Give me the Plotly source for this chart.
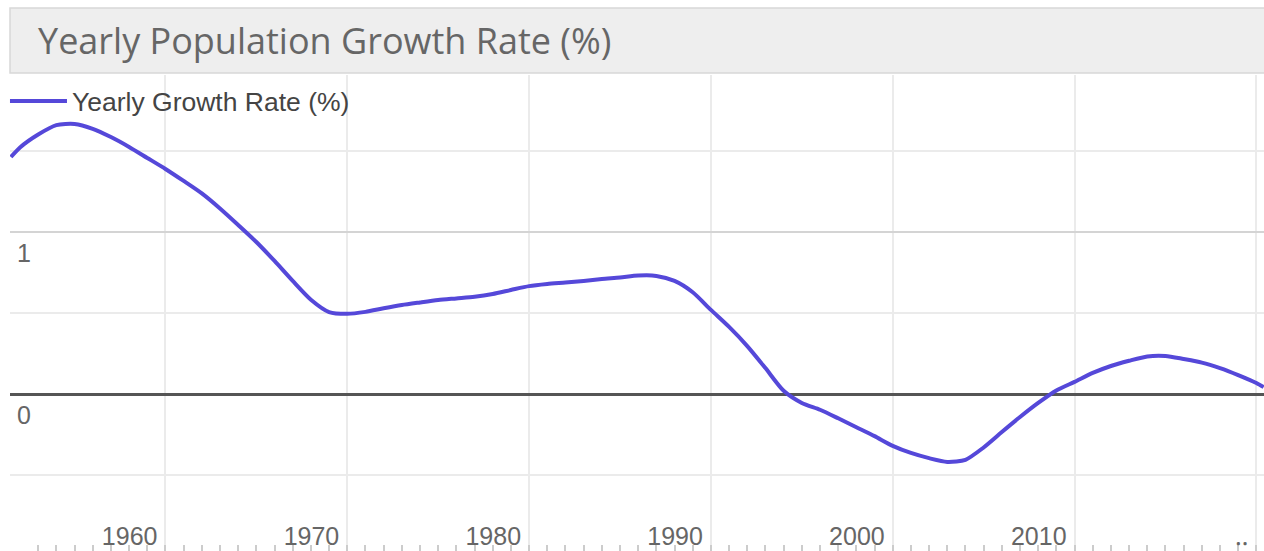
import plotly.graph_objects as go

# ---- data ----
years = [1951.5, 1952, 1953, 1954, 1955, 1956, 1957, 1958, 1959,
         1960, 1961, 1962, 1963, 1964, 1965, 1966, 1967, 1968, 1969,
         1970, 1971, 1972, 1973, 1974, 1975, 1976, 1977, 1978, 1979,
         1980, 1981, 1982, 1983, 1984, 1985, 1986, 1987, 1988, 1989,
         1990, 1991, 1992, 1993, 1994, 1995, 1996, 1997, 1998, 1999,
         2000, 2001, 2002, 2003, 2004, 2005, 2006, 2007, 2008, 2009,
         2010, 2011, 2012, 2013, 2014, 2015, 2016, 2017, 2018, 2019,
         2020, 2020.4]
growth_rate = [1.463, 1.522, 1.602, 1.660, 1.667, 1.637, 1.586, 1.525, 1.457,
               1.389, 1.315, 1.238, 1.145, 1.043, 0.938, 0.821, 0.698, 0.582, 0.506,
               0.495, 0.507, 0.529, 0.549, 0.565, 0.580, 0.590, 0.600, 0.617, 0.642,
               0.666, 0.679, 0.688, 0.698, 0.710, 0.719, 0.731, 0.729, 0.698, 0.628,
               0.519, 0.414, 0.296, 0.160, 0.020, -0.055, -0.097, -0.150, -0.205, -0.260,
               -0.320, -0.364, -0.396, -0.419, -0.406, -0.330, -0.235, -0.142, -0.055, 0.022,
               0.075, 0.130, 0.173, 0.205, 0.232, 0.235, 0.216, 0.194, 0.160, 0.117,
               0.068, 0.043]

x_tick_vals = [1960, 1970, 1980, 1990, 2000, 2010, 2020]
x_tick_text = ["1960", "1970", "1980", "1990", "2000", "2010", "\u2025"]
y_tick_vals = [0, 1]
y_tick_text = ["0", "1"]

series_name = "Yearly Growth Rate (%)"
chart_title = "Yearly Population Growth Rate (%)"

LINE_COLOR = "#5548d9"
LABEL_FONT = "Liberation Sans, Arial, sans-serif"

fig = go.Figure()
fig.add_trace(go.Scatter(
    x=years, y=growth_rate, mode="lines", name=series_name,
    line=dict(color=LINE_COLOR, width=4, shape="spline", smoothing=0.7),
    hoverinfo="x+y",
))

fig.update_layout(
    width=1264, height=551, autosize=False,
    margin=dict(l=10, r=0, t=75, b=0, pad=0),
    paper_bgcolor="white", plot_bgcolor="white",
    showlegend=True,
    legend=dict(x=-0.004, y=0.995, xanchor="left", yanchor="top",
                bgcolor="rgba(0,0,0,0)", borderwidth=0,
                font=dict(family=LABEL_FONT, size=26.5, color="#444444"),
                itemwidth=57),
    xaxis=dict(
        range=[1951.45, 2020.42],
        tickmode="array", tickvals=x_tick_vals, ticktext=x_tick_text,
        ticklabelposition="inside left",
        ticklabelstandoff=-5, ticklabelshift=-8,
        ticks="", showline=False, zeroline=False,
        showgrid=True, gridcolor="#ebebeb", gridwidth=2,
        tickfont=dict(family=LABEL_FONT, size=25, color="#666666"),
        minor=dict(ticks="inside", ticklen=6, tickwidth=1.5, tickcolor="#cccccc",
                   dtick=1, tick0=1960, showgrid=False),
        fixedrange=True,
    ),
    yaxis=dict(
        range=[-0.969, 1.969],
        tickmode="array", tickvals=y_tick_vals, ticktext=y_tick_text,
        ticklabelposition="inside bottom",
        ticklabelstandoff=4, ticklabelshift=4,
        ticks="", showline=False,
        showgrid=True, gridcolor="#d4d4d4", gridwidth=2,
        zeroline=True, zerolinecolor="#555555", zerolinewidth=2.5,
        tickfont=dict(family=LABEL_FONT, size=25, color="#666666"),
        minor=dict(dtick=0.5, tick0=0, showgrid=True, gridcolor="#ebebeb", gridwidth=2),
        fixedrange=True,
    ),
    shapes=[dict(type="rect", xref="paper", yref="paper",
                 x0=0, x1=1.05, y0=1.004, y1=1.1408,
                 fillcolor="#eeeeee", line=dict(color="#d8d8d8", width=1.5),
                 layer="above")],
    annotations=[dict(text=chart_title, xref="paper", yref="paper",
                      x=0.0207, y=1.0725, xanchor="left", yanchor="middle",
                      showarrow=False,
                      font=dict(family="Open Sans, sans-serif", size=36, color="#666666"))],
)

post = (
    "document.body.style.margin='0';"
    "document.body.style.overflow='hidden';"
    "var gd=document.getElementById('{plot_id}');"
    "Plotly.relayout(gd,{width:1264,height:551});"
)
fig.write_html("out.html", config={"responsive": False, "displayModeBar": False},
               post_script=post)
